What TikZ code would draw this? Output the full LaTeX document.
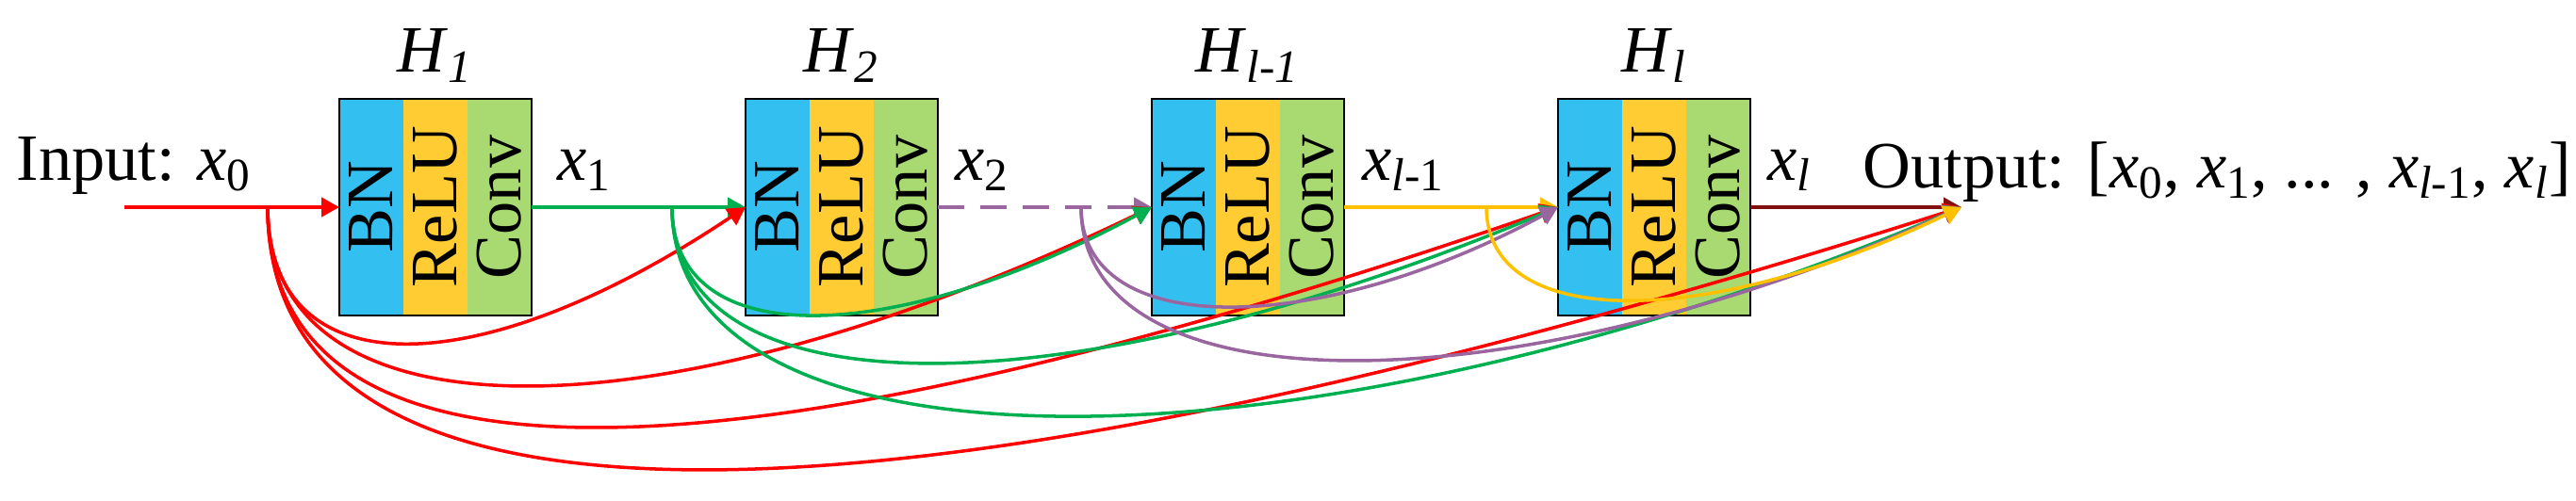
\documentclass[tikz,border=0pt]{standalone}
\usepackage{fontspec}
\setmainfont{Liberation Serif}
\usetikzlibrary{arrows.meta, positioning, calc}

\definecolor{bnblue}{RGB}{51,191,240}
\definecolor{reluyellow}{RGB}{255,204,51}
\definecolor{convgreen}{RGB}{169,217,113}
\definecolor{skipred}{RGB}{255,0,0}
\definecolor{skipgreen}{RGB}{0,176,80}
\definecolor{skippurple}{RGB}{153,102,160}
\definecolor{skipyellow}{RGB}{255,192,0}
\definecolor{outred}{RGB}{128,16,16}

\newcommand{\vx}[1]{\textit{x}\textsubscript{#1}}
\newcommand{\vh}[1]{\textit{H}\textsubscript{\textit{#1}}}

\begin{document}
\begin{tikzpicture}[
      node distance=2.27cm,
      stripe/.style={rectangle, minimum width=0.68cm, minimum height=2.3cm, inner sep=0pt, outer sep=0pt, font=\fontsize{20}{24}\selectfont},
      bn/.style={stripe, fill=bnblue},
      relu/.style={stripe, fill=reluyellow},
      conv/.style={stripe, fill=convgreen},
      frame/.style={draw=black, line width=0.6pt},
      lbl/.style={inner sep=0pt, font=\fontsize{20}{24}\selectfont},
      line/.style={draw, line width=1pt, -{Triangle[length=5.4pt,width=5.8pt]}}
    ]
    \useasboundingbox (0,0) rectangle (27.33,5.31);

    % Blocks
    \node[bn] (bn1) at (3.94,3.11) {\rotatebox{90}{BN}};
    \node[relu, right=0pt of bn1] (relu1) {\rotatebox{90}{ReLU}};
    \node[conv, right=0pt of relu1] (conv1) {\rotatebox{90}{Conv}};
    \node[bn, right=of conv1] (bn2) {\rotatebox{90}{BN}};
    \node[relu, right=0pt of bn2] (relu2) {\rotatebox{90}{ReLU}};
    \node[conv, right=0pt of relu2] (conv2) {\rotatebox{90}{Conv}};
    \node[bn, right=of conv2] (bn3) {\rotatebox{90}{BN}};
    \node[relu, right=0pt of bn3] (relu3) {\rotatebox{90}{ReLU}};
    \node[conv, right=0pt of relu3] (conv3) {\rotatebox{90}{Conv}};
    \node[bn, right=of conv3] (bn4) {\rotatebox{90}{BN}};
    \node[relu, right=0pt of bn4] (relu4) {\rotatebox{90}{ReLU}};
    \node[conv, right=0pt of relu4] (conv4) {\rotatebox{90}{Conv}};
    \draw[frame] (bn1.north west) rectangle (conv1.south east);
    \draw[frame] (bn2.north west) rectangle (conv2.south east);
    \draw[frame] (bn3.north west) rectangle (conv3.south east);
    \draw[frame] (bn4.north west) rectangle (conv4.south east);

    % Labels
    \node[lbl, above=0.17cm of relu1] (h1) {\vh{1}};
    \node[lbl, above=0.17cm of relu2] (h2) {\vh{2}};
    \node[lbl, above=0.17cm of relu3] (h3) {\vh{l-1}};
    \node[lbl, above=0.17cm of relu4] (h4) {\vh{l}};
    \node[lbl, anchor=base west] (input) at (0.17,3.39) {Input: \vx{0}};
    \node[lbl, anchor=base west] (x1) at ($(conv1.east)+(0.27,0.28)$) {\vx{1}};
    \node[lbl, anchor=base west] (x2) at ($(conv2.east)+(0.18,0.28)$) {\vx{2}};
    \node[lbl, anchor=base west] (x3) at ($(conv3.east)+(0.19,0.28)$) {\textit{x}\textsubscript{\textit{l}-1}};
    \node[lbl, anchor=base west] (x4) at ($(conv4.east)+(0.18,0.28)$) {\textit{x}\textsubscript{\textit{l}}};
    \node[lbl, anchor=base west] (output) at (19.76,3.31) {Output: [\vx{0}, \vx{1}, ... , \textit{x}\textsubscript{\textit{l}-1}, \textit{x}\textsubscript{\textit{l}}]};

    % Points on the main line
    \coordinate (in) at (1.32,3.11);
    \coordinate[right=2.24cm of conv4.east] (out);
    \coordinate[left=0.76cm of bn1.west] (b0);
    \coordinate[right=1.49cm of conv1.east] (b1);
    \coordinate[right=1.52cm of conv2.east] (b2);
    \coordinate[right=1.51cm of conv3.east] (b3);

    % Main line
    \draw[line, skipred] (in) -- (bn1.west);
    \draw[line, skipgreen] (conv1.east) -- (bn2.west);
    \draw[line, skippurple, dash pattern=on 0.28cm off 0.17cm] (conv2.east) -- (bn3.west);
    \draw[line, skipyellow] (conv3.east) -- (bn4.west);
    \draw[line, outred] (conv4.east) -- (out);

    % Dense connections
    \draw[line, skipred] (b0) .. controls +(0,-1.92) and +(-2.87,-1.92) .. (bn2.west);
    \draw[line, skipred] (b0) .. controls +(0,-2.52) and +(-5.23,-2.52) .. (bn3.west);
    \draw[line, skipred] (b0) .. controls +(0,-3.11) and +(-9.00,-3.11) .. (bn4.west);
    \draw[line, skipred] (b0) .. controls +(0,-3.71) and +(-11.65,-3.71) .. (out);
    \draw[line, skipgreen] (b1) .. controls +(0,-1.52) and +(-2.84,-1.52) .. (bn3.west);
    \draw[line, skipgreen] (b1) .. controls +(0,-2.20) and +(-5.23,-2.20) .. (bn4.west);
    \draw[line, skipgreen] (b1) .. controls +(0,-2.95) and +(-6.97,-2.95) .. (out);
    \draw[line, skippurple] (b2) .. controls +(0,-1.40) and +(-2.59,-1.40) .. (bn4.west);
    \draw[line, skippurple] (b2) .. controls +(0,-2.16) and +(-4.79,-2.16) .. (out);
    \draw[line, skipyellow] (b3) .. controls +(0,-1.31) and +(-2.72,-1.31) .. (out);
  \end{tikzpicture}
\end{document}
